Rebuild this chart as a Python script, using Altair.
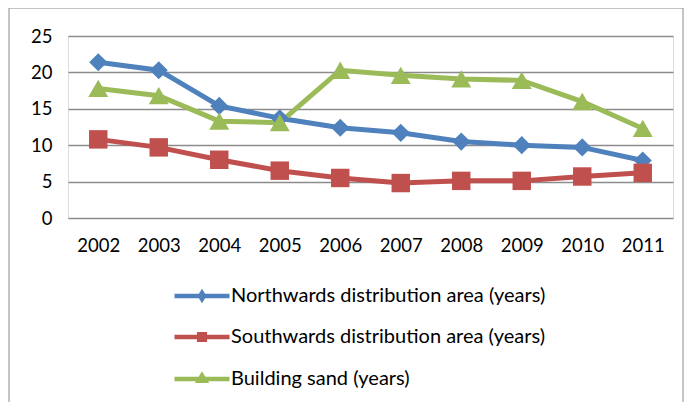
import altair as alt
import pandas as pd

years = ["2002", "2003", "2004", "2005", "2006", "2007", "2008", "2009", "2010", "2011"]
north = [21.4, 20.3, 15.4, 13.7, 12.4, 11.7, 10.5, 10.0, 9.7, 7.9]
south = [10.8, 9.7, 8.0, 6.5, 5.5, 4.8, 5.1, 5.1, 5.7, 6.2]
sand = [17.8, 16.8, 13.3, 13.1, 20.3, 19.6, 19.1, 18.9, 16.0, 12.3]
series = [
    "Northwards distribution area (years)",
    "Southwards distribution area (years)",
    "Building sand (years)",
]
colors = ["#4F81BD", "#C0504D", "#9BBB59"]
shapes = ["diamond", "square", "triangle-up"]
marker_sizes = [330, 340, 400]

rows = []
for name, vals in zip(series, [north, south, sand]):
    for y, v in zip(years, vals):
        rows.append({"year": y, "value": v, "series": name})
df = pd.DataFrame(rows)

FONT = "Lato"

legend_paths = [
    "M-2.95,0H2.95M0,-0.32L0.2,0L0,0.32L-0.2,0Z",
    "M-2.95,0H2.95M-0.3,-0.3H0.3V0.3H-0.3Z",
    "M-2.95,0H2.95M0,-0.36L0.34,0.2H-0.34Z",
]
shape_signal = (
    f"datum.value === '{series[0]}' ? '{legend_paths[0]}' : "
    f"datum.value === '{series[1]}' ? '{legend_paths[1]}' : '{legend_paths[2]}'"
)
color_signal = (
    f"datum.value === '{series[0]}' ? '{colors[0]}' : "
    f"datum.value === '{series[1]}' ? '{colors[1]}' : '{colors[2]}'"
)

color_scale = alt.Scale(domain=series, range=colors)

x_enc = alt.X(
    "year:O",
    sort=years,
    scale=alt.Scale(type="point", padding=0.5),
    axis=alt.Axis(
        title=None, labelAngle=0, ticks=False, domain=False, grid=False,
        labelFont=FONT, labelFontSize=18.5, labelColor="#000000", labelPadding=18,
    ),
)
y_enc = alt.Y(
    "value:Q",
    scale=alt.Scale(domain=[0, 25], nice=False),
    axis=alt.Axis(
        title=None, values=[0, 5, 10, 15, 20, 25], ticks=False, domain=False,
        grid=True, gridColor="#8C8C8C", gridWidth=1.5,
        labelFont=FONT, labelFontSize=18.5, labelColor="#000000", labelPadding=16,
    ),
)

lines = alt.Chart(df).mark_line(strokeWidth=5).encode(
    x=x_enc,
    y=y_enc,
    color=alt.Color(
        "series:N",
        scale=color_scale,
        sort=series,
        legend=alt.Legend(
            title=None,
            orient="none",
            legendX=122,
            legendY=248,
            direction="vertical",
            padding=0,
            symbolSize=348,
            symbolStrokeWidth=4.5,
            symbolType={"expr": shape_signal},
            symbolFillColor={"expr": color_signal},
            symbolStrokeColor={"expr": color_signal},
            symbolOpacity=1,
            labelFont=FONT,
            labelFontSize=20,
            labelColor="#000000",
            labelOffset=17,
            rowPadding=17,
            labelLimit=500,
        ),
    ),
    detail="series:N",
)

point_layers = []
for name, shp, sz in zip(series, shapes, marker_sizes):
    point_layers.append(
        alt.Chart(df[df["series"] == name]).mark_point(
            filled=True, size=sz, opacity=1, shape=shp
        ).encode(
            x=x_enc,
            y=y_enc,
            color=alt.Color("series:N", scale=color_scale, legend=None),
        )
    )

frame = alt.Chart(pd.DataFrame({"f": [0]})).mark_rect(
    fill=None, stroke="#8C8C8C", strokeWidth=1
).encode(
    x=alt.value(-59), x2=alt.value(615), y=alt.value(-28), y2=alt.value(400)
)

chart = alt.layer(frame, lines, *point_layers).properties(
    width=605,
    height=182,
    autosize=alt.AutoSizeParams(type="none"),
    padding={"left": 60, "top": 28, "right": 11, "bottom": 184},
).configure_view(stroke=None).configure(background="#ffffff")

chart.save("out.html", embed_options={"renderer": "svg", "actions": False})
